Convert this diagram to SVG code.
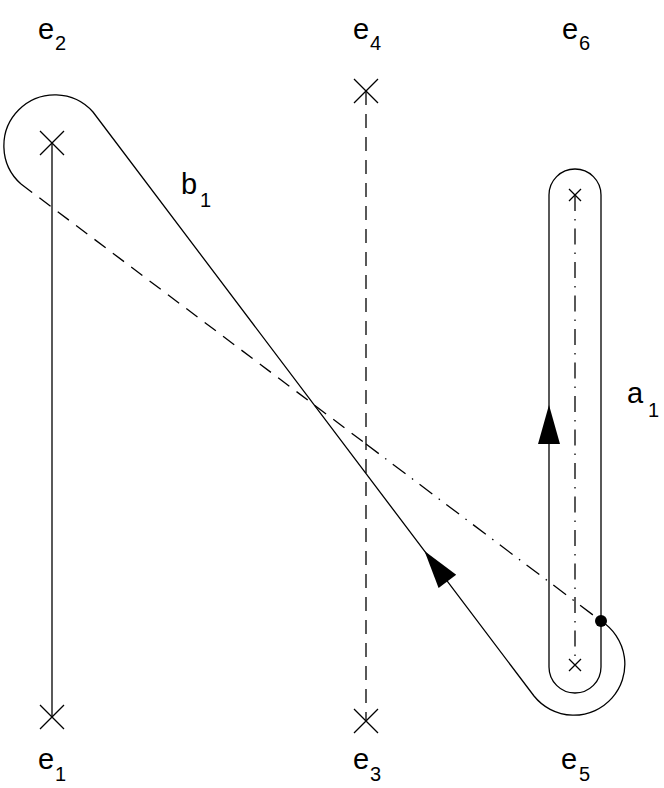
<svg xmlns="http://www.w3.org/2000/svg" width="664" height="788" viewBox="0 0 664 788">
<style>
.ln{fill:none;stroke:#000;stroke-width:1.3}
.dash{stroke-dasharray:14 9}
.dd{stroke-dasharray:16 8 1.5 8}
.lbl{font-family:"Liberation Sans",Arial,sans-serif;font-size:29px;fill:#000}
.sub{font-size:20px}
.ah{fill:#000;stroke:none}
</style>
<rect width="664" height="788" fill="#fff"/>
<g id="e2">
<path class="ln" d="M40,131L64,155M64,131L40,155"/>
<text class="lbl" x="38" y="39">e</text><text class="lbl sub" x="55" y="50">2</text>
</g>
<g id="e1">
<path class="ln" d="M40,705L64,729M64,705L40,729"/>
<text class="lbl" x="38" y="769">e</text><text class="lbl sub" x="55" y="781">1</text>
</g>
<g id="e4">
<path class="ln" d="M354,79L378,103M378,79L354,103"/>
<text class="lbl" x="353" y="39">e</text><text class="lbl sub" x="370" y="50">4</text>
</g>
<g id="e3">
<path class="ln" d="M354,709L378,733M378,709L354,733"/>
<text class="lbl" x="353" y="769">e</text><text class="lbl sub" x="370" y="781">3</text>
</g>
<g id="e6">
<path class="ln" d="M569,189L581,201M581,189L569,201"/>
<text class="lbl" x="562" y="39">e</text><text class="lbl sub" x="579" y="50">6</text>
</g>
<g id="e5">
<path class="ln" d="M569,659L581,671M581,659L569,671"/>
<text class="lbl" x="561" y="769">e</text><text class="lbl sub" x="579" y="781">5</text>
</g>
<g id="connectors">
<line class="ln" x1="52" y1="143" x2="52" y2="717"/>
<line class="ln dash" x1="366" y1="91" x2="366" y2="721"/>
<line class="ln dd" x1="575" y1="195" x2="575" y2="665"/>
<path class="ln" d="M549,667V195A26,26 0 0 1 601,195V667A26,26 0 0 1 549,667"/>
<path class="ah" d="M549,405L560,444L538,444Z"/>
<path class="ln" d="M601,621A51,51 0 1 1 534,696L93,112A51,51 0 1 0 21,184"/>
<line class="ln dash" x1="21" y1="184" x2="366" y2="444"/>
<line class="ln dd" x1="366" y1="444" x2="601" y2="621"/>
<path class="ah" d="M424.5,551L456.2,574.7L438.6,587.9Z"/>
<circle cx="601" cy="621" r="6" fill="#000"/>
</g>
<g id="b1">
<text class="lbl" x="181" y="194">b</text><text class="lbl sub" x="200" y="207">1</text>
</g>
<g id="a1">
<text class="lbl" x="627" y="403">a</text><text class="lbl sub" x="648" y="417">1</text>
</g>
</svg>
